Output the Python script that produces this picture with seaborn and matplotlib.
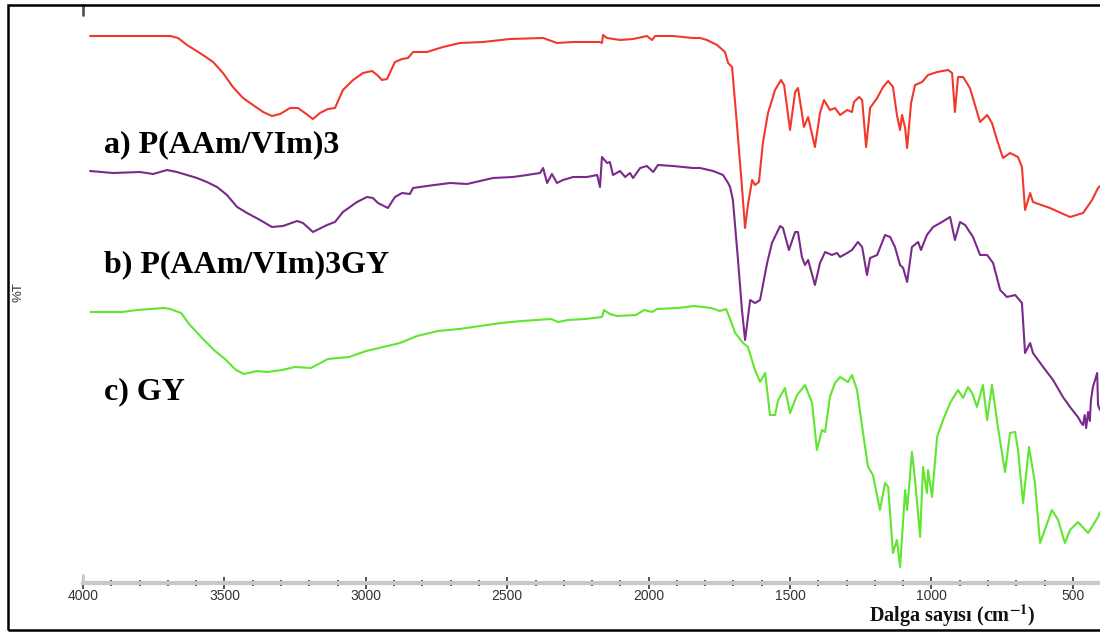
import numpy as np
import pandas as pd
import matplotlib
matplotlib.use("Agg")
import matplotlib.pyplot as plt
from matplotlib.patches import Rectangle
from matplotlib.ticker import MultipleLocator
import seaborn as sns

# ---------------- data (wavenumber cm-1, relative %T) ----------------
red_wn = [3975, 3869, 3692, 3664, 3632, 3576, 3540, 3505, 3470, 3434, 3399, 3363, 3332, 3303,
          3268, 3240, 3215, 3187, 3162, 3134, 3109, 3081, 3045, 3010, 2978, 2960, 2943, 2925,
          2907, 2897, 2872, 2851, 2833, 2784, 2727, 2667, 2586, 2490, 2373, 2324, 2267, 2172,
          2165, 2161, 2147, 2101, 2055, 2006, 1988, 1977, 1914, 1843, 1818, 1794, 1758, 1730,
          1719, 1705, 1687, 1670, 1659, 1649, 1634, 1624, 1610, 1596, 1578, 1553, 1532, 1521,
          1500, 1482, 1472, 1458, 1451, 1436, 1412, 1394, 1380, 1359, 1341, 1323, 1298, 1281,
          1274, 1256, 1245, 1231, 1217, 1192, 1171, 1153, 1136, 1122, 1111, 1104, 1093, 1086,
          1072, 1058, 1033, 1012, 980, 941, 927, 917, 906, 888, 864, 828, 803, 786, 768, 747,
          722, 694, 680, 669, 651, 641, 581, 510, 464, 432, 411, 400]
red_t = [547, 547, 547, 545, 538, 528, 521, 510, 496, 485, 478, 471, 467, 469,
         475, 475, 470, 464, 470, 474, 475, 493, 503, 510, 512, 508, 503, 504,
         515, 521, 524, 525, 531, 531, 536, 540, 541, 544, 545, 540, 541, 541,
         540, 548, 545, 543, 544, 547, 543, 547, 547, 545, 545, 543, 538, 531,
         520, 516, 456, 396, 355, 378, 403, 398, 401, 440, 470, 493, 503, 498,
         453, 491, 495, 470, 456, 466, 436, 470, 483, 473, 475, 468, 473, 471,
         481, 486, 483, 436, 475, 485, 496, 502, 496, 468, 453, 468, 455, 435,
         480, 498, 501, 508, 511, 513, 510, 471, 506, 506, 495, 461, 468, 460, 443, 425,
         430, 426, 416, 373, 390, 381, 375, 366, 370, 383, 395, 398]

purple_wn = [3975, 3894, 3798, 3752, 3703, 3668, 3632, 3597, 3562, 3526, 3491, 3455, 3420, 3374,
             3332, 3293, 3243, 3222, 3187, 3137, 3109, 3081, 3031, 2996, 2975, 2957, 2922, 2897,
             2872, 2844, 2833, 2784, 2702, 2642, 2550, 2480, 2430, 2384, 2373, 2359, 2342, 2324,
             2303, 2267, 2218, 2182, 2172, 2165, 2147, 2137, 2126, 2101, 2083, 2066, 2055, 2030,
             2006, 1984, 1967, 1914, 1843, 1818, 1772, 1737, 1719, 1712, 1702, 1684, 1670, 1659,
             1641, 1624, 1606, 1581, 1564, 1535, 1525, 1504, 1482, 1472, 1458, 1447, 1436, 1412,
             1394, 1376, 1352, 1334, 1323, 1298, 1281, 1260, 1245, 1228, 1217, 1192, 1164, 1146,
             1129, 1111, 1100, 1086, 1069, 1047, 1037, 1016, 994, 963, 934, 917, 899, 881, 853,
             828, 803, 782, 757, 733, 704, 680, 669, 651, 641, 605, 570, 535, 510, 482, 470,
             464, 458, 453, 446, 440, 436, 429, 414, 411, 404]
purple_t = [412, 410, 411, 409, 413, 411, 408, 405, 401, 396, 388, 376, 370, 363,
            356, 357, 362, 360, 351, 358, 361, 371, 381, 386, 385, 380, 375, 386,
            390, 389, 395, 397, 400, 399, 405, 406, 408, 410, 415, 400, 409, 400,
            403, 406, 406, 408, 396, 426, 420, 421, 408, 412, 406, 410, 405, 415,
            417, 411, 418, 417, 415, 415, 412, 408, 400, 396, 383, 323, 273, 243,
            283, 280, 283, 320, 340, 357, 355, 333, 351, 351, 326, 318, 323, 298,
            320, 331, 328, 330, 326, 330, 333, 341, 336, 308, 325, 328, 348, 346,
            336, 318, 315, 301, 336, 341, 333, 348, 356, 361, 366, 343, 361, 358, 346,
            328, 328, 320, 293, 286, 288, 280, 230, 240, 230, 216, 203, 186, 176, 166, 160,
            158, 168, 155, 171, 162, 183, 196, 210, 178, 173]

green_wn = [3973, 3862, 3809, 3714, 3692, 3653, 3625, 3579, 3533, 3498, 3459, 3431, 3385, 3349,
            3296, 3250, 3194, 3134, 3059, 2999, 2939, 2879, 2819, 2745, 2670, 2596, 2522, 2448,
            2345, 2320, 2285, 2225, 2165, 2158, 2137, 2112, 2045, 2016, 1988, 1970, 1896, 1839,
            1779, 1748, 1726, 1712, 1694, 1666, 1649, 1624, 1606, 1588, 1571, 1553, 1542, 1518,
            1500, 1475, 1447, 1422, 1405, 1387, 1376, 1359, 1341, 1323, 1306, 1295, 1281, 1263,
            1242, 1224, 1207, 1182, 1164, 1153, 1136, 1122, 1111, 1093, 1086, 1069, 1058, 1040,
            1030, 1016, 1012, 998, 980, 959, 934, 906, 888, 871, 856, 839, 818, 803, 786, 765,
            740, 722, 704, 694, 676, 655, 634, 616, 574, 552, 528, 510, 482, 446, 411, 404]
green_t = [271, 271, 273, 275, 274, 270, 259, 245, 232, 224, 213, 209, 212, 211,
           213, 216, 215, 224, 226, 232, 236, 240, 247, 252, 254, 257, 260, 262,
           264, 261, 263, 264, 266, 273, 269, 267, 268, 273, 271, 274, 275, 277,
           275, 272, 274, 264, 250, 240, 236, 213, 201, 210, 168, 168, 183, 195,
           170, 188, 198, 180, 133, 153, 151, 186, 200, 206, 203, 201, 208, 193,
           150, 116, 108, 73, 100, 96, 30, 43, 16, 93, 73, 131, 103, 46,
           116, 90, 113, 86, 146, 163, 180, 193, 185, 196, 190, 176, 198, 163, 198, 156,
           111, 150, 151, 133, 80, 136, 100, 40, 73, 63, 40, 53, 61, 50, 66, 71]

series_names = ["a) P(AAm/VIm)3", "b) P(AAm/VIm)3GY", "c) GY"]
series_colors = ["#f2382b", "#7a2a8a", "#5fe62e"]
label_wn = [3926, 3926, 3926]
label_t = [438, 318, 191]

x_major_ticks = [4000, 3500, 3000, 2500, 2000, 1500, 1000, 500]

# ---------------- figure ----------------
sns.set_theme(style="white")
plt.rcParams["font.family"] = ["Liberation Sans", "DejaVu Sans"]
plt.rcParams["mathtext.fontset"] = "stix"

fig = plt.figure(figsize=(11, 6.32), dpi=100)
ax = fig.add_axes([83 / 1100, 49 / 632, 1017 / 1100, 578 / 632])

for wn, t, c in zip([red_wn, purple_wn, green_wn], [red_t, purple_t, green_t], series_colors):
    df = pd.DataFrame({"wn": wn, "T": t})
    sns.lineplot(data=df, x="wn", y="T", ax=ax, color=c, lw=1.5, sort=False,
                 estimator=None)

for name, xw, yt in zip(series_names, label_wn, label_t):
    ax.text(xw, yt, name, ha="left", va="center", fontsize=23, fontweight="bold",
            family="Liberation Serif", color="black")

ax.set_xlim(4000, 404)
ax.set_ylim(0, 578)
ax.set_xlabel("")
ax.set_ylabel("")
ax.set_yticks([])
ax.set_xticks(x_major_ticks)
ax.set_xticklabels([str(v) for v in x_major_ticks])
ax.xaxis.set_minor_locator(MultipleLocator(100))
ax.tick_params(axis="x", which="major", direction="inout", length=8, width=1.3,
               color="#444444", labelsize=10, labelcolor="#333333", pad=0, bottom=True)
ax.tick_params(axis="x", which="minor", direction="inout", length=4, width=1.3,
               color="#444444", bottom=True)
for s in ["top", "right", "left"]:
    ax.spines[s].set_visible(False)
ax.spines["bottom"].set_color("#c8c8c8")
ax.spines["bottom"].set_linewidth(3)

# small axis stubs at left
ax.axvline(4000, ymin=0.983, ymax=1.0, color="#555555", lw=2, clip_on=False)
ax.axvline(4000, ymin=0.0, ymax=0.014, color="#cccccc", lw=2, clip_on=False)

fig.text(18 / 1100, 1 - 292 / 632, "%T", rotation=90, ha="center", va="center",
         fontsize=9.5, color="#333333")
fig.text(952 / 1100, 1 - 616 / 632, r"Dalga sayısı (cm$^{\mathbf{-1}}$)", ha="center",
         va="center", fontsize=14.5, fontweight="bold", family="Liberation Serif",
         color="#111111")

fig.add_artist(Rectangle((8 / 1100, 2 / 632), 1.0, 625 / 632, transform=fig.transFigure,
                         fill=False, ec="black", lw=1.8))

fig.savefig("out.png", dpi=100)
